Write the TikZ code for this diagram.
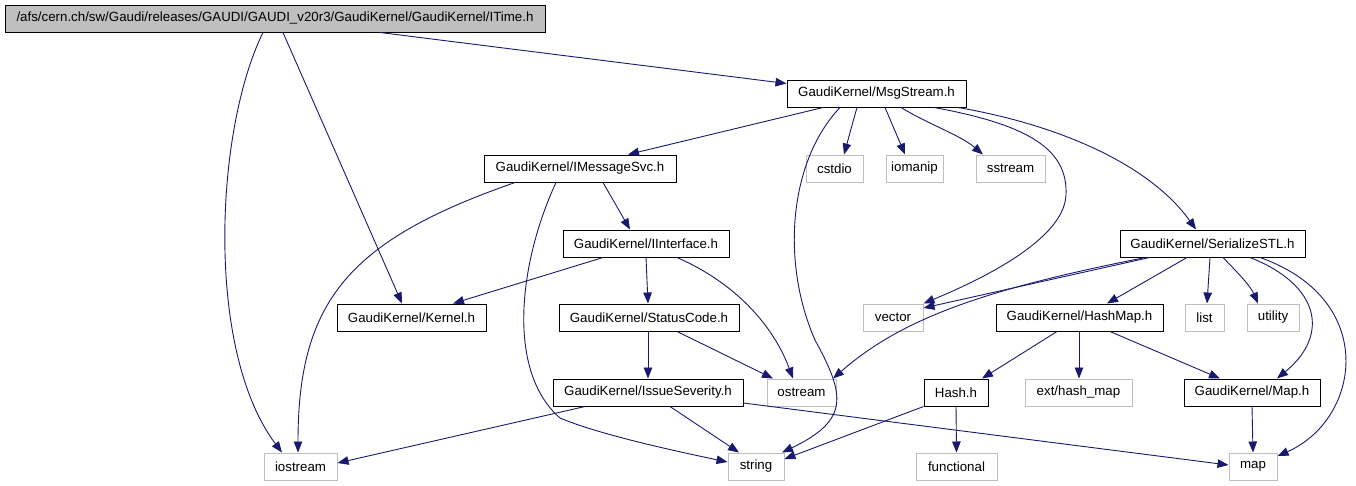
\documentclass[tikz,border=0pt]{standalone}
\usepackage{fontspec}
\setmainfont{Liberation Sans}
\usetikzlibrary{arrows.meta}
\definecolor{edgeblue}{HTML}{191970}
\definecolor{sysgray}{HTML}{BFBFBF}
\begin{document}
\begin{tikzpicture}[x=1pt,y=-1pt,
  base/.style={rectangle,inner sep=0pt,minimum height=27pt,line width=1pt,font=\fontsize{13.3}{15}\selectfont},
  hdr/.style={base,draw=black},
  sys/.style={base,draw=sysgray},
  root/.style={base,draw=black,fill=sysgray},
  dep/.style={draw=edgeblue,line width=0.9pt,-{Triangle[length=11pt,width=8.5pt]}}]
\useasboundingbox (0,0) rectangle (1356,485);
% nodes
\node[root,minimum width=540pt] (it) at (275,18.5) {/afs/cern.ch/sw/Gaudi/releases/GAUDI/GAUDI\_v20r3/GaudiKernel/GaudiKernel/ITime.h};
\node[hdr,minimum width=179pt] (msg) at (876.5,93.5) {GaudiKernel/MsgStream.h};
\node[hdr,minimum width=192pt] (ims) at (580,168.5) {GaudiKernel/IMessageSvc.h};
\node[sys,minimum width=57pt] (cst) at (834.5,168.5) {cstdio};
\node[sys,minimum width=57pt] (iom) at (914.5,168.5) {iomanip};
\node[sys,minimum width=69pt] (sst) at (1010.5,168.5) {sstream};
\node[hdr,minimum width=166pt] (iint) at (646,243.5) {GaudiKernel/IInterface.h};
\node[hdr,minimum width=185pt] (ser) at (1212.5,243.5) {GaudiKernel/SerializeSTL.h};
\node[hdr,minimum width=149pt] (kern) at (411.5,317.5) {GaudiKernel/Kernel.h};
\node[hdr,minimum width=180pt] (sc) at (649,317.5) {GaudiKernel/StatusCode.h};
\node[sys,minimum width=60pt] (vec) at (893,317.5) {vector};
\node[hdr,minimum width=167pt] (hm) at (1079.5,317.5) {GaudiKernel/HashMap.h};
\node[sys,minimum width=39pt] (lst) at (1204.5,317.5) {list};
\node[sys,minimum width=52pt] (util) at (1273,317.5) {utility};
\node[hdr,minimum width=190pt] (is) at (648,392.5) {GaudiKernel/IssueSeverity.h};
\node[sys,minimum width=69pt] (ost) at (801.5,392.5) {ostream};
\node[hdr,minimum width=64pt] (hash) at (956,392.5) {Hash.h};
\node[sys,minimum width=107pt] (ext) at (1078.5,392.5) {ext/hash\_map};
\node[hdr,minimum width=136pt] (maph) at (1252,392.5) {GaudiKernel/Map.h};
\node[sys,minimum width=73pt] (ios) at (300.5,466.5) {iostream};
\node[sys,minimum width=56pt] (str) at (756,466.5) {string};
\node[sys,minimum width=81pt] (func) at (956.5,466.5) {functional};
\node[sys,minimum width=48pt] (map) at (1253,466.5) {map};
% edges from ITime
\draw[dep] ([xshift=105pt]it.south) -- ([yshift=10pt]msg.west);
\draw[dep] ([xshift=8pt]it.south) -- ([xshift=-9.5pt]kern.north);
\draw[dep] ([xshift=-12pt]it.south) .. controls (215,130) and (205,350) .. ([xshift=-18.5pt]ios.north);
% edges from MsgStream
\draw[dep] ([xshift=-53.5pt]msg.south) -- ([xshift=48pt]ims.north);
\draw[dep] ([xshift=-19.5pt]msg.south) .. controls (852,125) and (848,140) .. ([xshift=9.5pt]cst.north);
\draw[dep] ([xshift=8.5pt]msg.south) -- ([xshift=-9.5pt]iom.north);
\draw[dep] ([xshift=24.5pt]msg.south) .. controls (930,125) and (960,135) .. ([xshift=-27.5pt]sst.north);
\draw[dep] ([xshift=-36.5pt]msg.south) .. controls (790,160) and (780,260) .. (815,340) .. controls (845,395) and (850,420) .. ([xshift=26pt]str.north);
\draw[dep] ([xshift=57.5pt]msg.south) .. controls (1030,125) and (1068,150) .. (1066,195) .. controls (1064,240) and (980,280) .. (vec.north east);
\draw[dep] ([xshift=81.5pt]msg.south) .. controls (1060,125) and (1150,165) .. ([xshift=-16.5pt]ser.north);
% edges from IMessageSvc
\draw[dep] ([xshift=23pt]ims.south) -- ([xshift=-16pt]iint.north);
\draw[dep] ([xshift=-65pt]ims.south) .. controls (350,240) and (298,300) .. ([xshift=-2.5pt]ios.north);
\draw[dep] ([xshift=-24pt]ims.south) .. controls (520,260) and (505,370) .. (560,418) .. controls (600,435) and (680,452) .. ([yshift=4.5pt]str.west);
% edges from IInterface
\draw[dep] ([xshift=-43pt]iint.south) -- ([xshift=41.5pt]kern.north);
\draw[dep] (iint.south) -- ([xshift=-1pt]sc.north);
\draw[dep] ([xshift=31pt]iint.south) .. controls (740,285) and (775,330) .. ([xshift=-8.5pt]ost.north);
% edges from StatusCode
\draw[dep] ([xshift=28pt]sc.south) -- ([xshift=-28.5pt]ost.north);
\draw[dep] ([xshift=-1pt]sc.south) -- (is.north);
% edges from IssueSeverity
\draw[dep] ([xshift=-63pt]is.south) -- ([yshift=3.5pt]ios.east);
\draw[dep] ([xshift=22pt]is.south) -- ([xshift=-17pt]str.north);
\draw[dep] ([yshift=-10.5pt]is.east) -- ([yshift=1.5pt]map.west);
% edges from SerializeSTL
\draw[dep] ([xshift=-63pt]ser.south) -- ([yshift=9.5pt]vec.east);
\draw[dep] ([xshift=-67pt]ser.south) .. controls (980,290) and (900,320) .. ([xshift=31.5pt]ost.north);
\draw[dep] ([xshift=-25.5pt]ser.south) -- ([xshift=27.5pt]hm.north);
\draw[dep] ([xshift=-2.5pt]ser.south) -- ([xshift=2.5pt]lst.north);
\draw[dep] ([xshift=10.5pt]ser.south) .. controls (1235,270) and (1250,285) .. ([xshift=-15pt]util.north);
\draw[dep] ([xshift=37.5pt]ser.south) .. controls (1320,285) and (1330,335) .. ([xshift=25pt]maph.north);
\draw[dep] ([xshift=47.5pt]ser.south) .. controls (1380,300) and (1360,420) .. ([yshift=10.5pt]map.east);
% edges from HashMap
\draw[dep] ([xshift=-22.5pt]hm.south) -- ([xshift=26pt]hash.north);
\draw[dep] ([xshift=-0.5pt]hm.south) -- ([xshift=0.5pt]ext.north);
\draw[dep] ([xshift=30.5pt]hm.south) -- ([xshift=-32pt]maph.north);
% edges from Hash.h and Map.h
\draw[dep] (hash.south west) -- ([yshift=7.5pt]str.east);
\draw[dep] (hash.south) -- (func.north);
\draw[dep] (maph.south) -- (map.north);
\end{tikzpicture}
\end{document}
